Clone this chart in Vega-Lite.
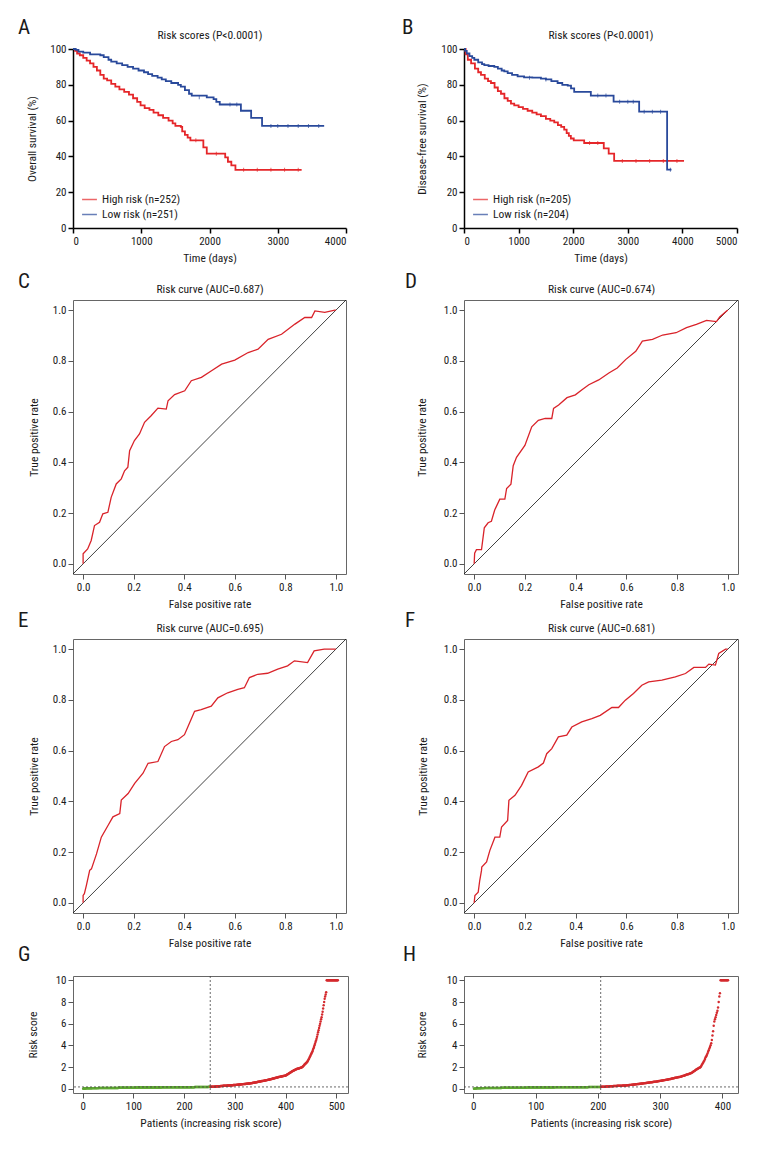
{
"$schema":"https://vega.github.io/schema/vega-lite/v6.json",
"background":"white",
"padding":{"left":17,"top":17,"right":5,"bottom":5},
"spacing":6,
"resolve":{"scale":{"color":"independent"},"legend":{"color":"independent"}},
"config":{
 "font":"'Roboto Condensed','DejaVu Sans Condensed','Liberation Sans Narrow',Roboto,sans-serif",
 "view":{"stroke":null},
 "axis":{"labelFont":"'Roboto Condensed','DejaVu Sans Condensed','Liberation Sans Narrow',Roboto,sans-serif","titleFont":"'Roboto Condensed','DejaVu Sans Condensed','Liberation Sans Narrow',Roboto,sans-serif","labelFontSize":11,"titleFontSize":11.5,"titleFontWeight":"normal","labelColor":"#1a1a1a","titleColor":"#1a1a1a","grid":false,"tickColor":"#555","domainColor":"#555","tickSize":5,"labelPadding":2,"titlePadding":6,"labelOverlap":false},
 "title":{"font":"'Roboto Condensed','DejaVu Sans Condensed','Liberation Sans Narrow',Roboto,sans-serif","fontSize":21,"fontWeight":"normal","color":"#1a1a1a","anchor":"start","frame":"group"},
 "legend":{"labelFont":"'Roboto Condensed','DejaVu Sans Condensed','Liberation Sans Narrow',Roboto,sans-serif"}
},
"vconcat":[
{"bounds":"flush","spacing":118,"resolve":{"scale":{"color":"independent"},"legend":{"color":"independent"}},"hconcat":[
 {"width":273,"height":179,
  "title":{"text":"A","dx":-55,"offset":-9},
  "resolve":{"axis":{"x":"independent"}},
  "layer":[
  {"data":{"values":[
   {"t":0,"s":100,"g":"High risk (n=252)"},{"t":30,"s":99,"g":"High risk (n=252)"},{"t":60,"s":97.5,"g":"High risk (n=252)"},{"t":100,"s":96.5,"g":"High risk (n=252)"},{"t":150,"s":95,"g":"High risk (n=252)"},{"t":200,"s":93.5,"g":"High risk (n=252)"},{"t":250,"s":92,"g":"High risk (n=252)"},{"t":300,"s":90,"g":"High risk (n=252)"},{"t":350,"s":88,"g":"High risk (n=252)"},{"t":400,"s":85.5,"g":"High risk (n=252)"},{"t":450,"s":83.5,"g":"High risk (n=252)"},{"t":500,"s":82.5,"g":"High risk (n=252)"},{"t":560,"s":80.5,"g":"High risk (n=252)"},{"t":620,"s":79,"g":"High risk (n=252)"},{"t":680,"s":77.5,"g":"High risk (n=252)"},{"t":750,"s":76,"g":"High risk (n=252)"},{"t":820,"s":74.5,"g":"High risk (n=252)"},{"t":880,"s":72.5,"g":"High risk (n=252)"},{"t":940,"s":70.5,"g":"High risk (n=252)"},{"t":990,"s":68.5,"g":"High risk (n=252)"},{"t":1050,"s":67,"g":"High risk (n=252)"},{"t":1120,"s":66,"g":"High risk (n=252)"},{"t":1180,"s":64.5,"g":"High risk (n=252)"},{"t":1250,"s":63,"g":"High risk (n=252)"},{"t":1320,"s":61.5,"g":"High risk (n=252)"},{"t":1400,"s":60,"g":"High risk (n=252)"},{"t":1460,"s":58.5,"g":"High risk (n=252)"},{"t":1500,"s":57,"g":"High risk (n=252)"},{"t":1580,"s":56.5,"g":"High risk (n=252)"},{"t":1600,"s":54,"g":"High risk (n=252)"},{"t":1640,"s":52,"g":"High risk (n=252)"},{"t":1680,"s":50.5,"g":"High risk (n=252)"},{"t":1720,"s":49,"g":"High risk (n=252)"},{"t":1910,"s":45,"g":"High risk (n=252)"},{"t":1960,"s":41.5,"g":"High risk (n=252)"},{"t":2230,"s":39.5,"g":"High risk (n=252)"},{"t":2270,"s":37,"g":"High risk (n=252)"},{"t":2320,"s":35,"g":"High risk (n=252)"},{"t":2380,"s":32.5,"g":"High risk (n=252)"},{"t":3350,"s":32.5,"g":"High risk (n=252)"},
   {"t":0,"s":100,"g":"Low risk (n=251)"},{"t":40,"s":99.5,"g":"Low risk (n=251)"},{"t":80,"s":98.5,"g":"Low risk (n=251)"},{"t":150,"s":98,"g":"Low risk (n=251)"},{"t":250,"s":97,"g":"Low risk (n=251)"},{"t":400,"s":96.5,"g":"Low risk (n=251)"},{"t":450,"s":95.5,"g":"Low risk (n=251)"},{"t":520,"s":94,"g":"Low risk (n=251)"},{"t":560,"s":93,"g":"Low risk (n=251)"},{"t":640,"s":92,"g":"Low risk (n=251)"},{"t":720,"s":91,"g":"Low risk (n=251)"},{"t":800,"s":90,"g":"Low risk (n=251)"},{"t":880,"s":89,"g":"Low risk (n=251)"},{"t":960,"s":88,"g":"Low risk (n=251)"},{"t":1040,"s":87,"g":"Low risk (n=251)"},{"t":1100,"s":86,"g":"Low risk (n=251)"},{"t":1160,"s":85,"g":"Low risk (n=251)"},{"t":1240,"s":84,"g":"Low risk (n=251)"},{"t":1300,"s":83,"g":"Low risk (n=251)"},{"t":1360,"s":82,"g":"Low risk (n=251)"},{"t":1440,"s":81,"g":"Low risk (n=251)"},{"t":1540,"s":80,"g":"Low risk (n=251)"},{"t":1580,"s":79,"g":"Low risk (n=251)"},{"t":1640,"s":77,"g":"Low risk (n=251)"},{"t":1700,"s":75,"g":"Low risk (n=251)"},{"t":1740,"s":74,"g":"Low risk (n=251)"},{"t":1960,"s":73,"g":"Low risk (n=251)"},{"t":2060,"s":72,"g":"Low risk (n=251)"},{"t":2100,"s":70.5,"g":"Low risk (n=251)"},{"t":2150,"s":69,"g":"Low risk (n=251)"},{"t":2460,"s":65.5,"g":"Low risk (n=251)"},{"t":2610,"s":61.5,"g":"Low risk (n=251)"},{"t":2770,"s":57,"g":"Low risk (n=251)"},{"t":3680,"s":57,"g":"Low risk (n=251)"}
  ]},
  "mark":{"type":"line","interpolate":"step-after","strokeWidth":1.8},
  "encoding":{
   "x":{"field":"t","type":"quantitative","scale":{"domain":[0,4000],"nice":false},"axis":{"values":[0,1000,2000,3000,4000],"format":"d","title":"Time (days)","domainColor":"#000","domainWidth":1.5,"tickColor":"#000","tickWidth":1.5}},
   "y":{"field":"s","type":"quantitative","scale":{"domain":[0,100],"nice":false},"axis":{"values":[0,20,40,60,80,100],"labelOverlap":false,"title":"Overall survival (%)","titlePadding":12,"domainColor":"#000","domainWidth":1.5,"tickColor":"#000","tickWidth":1.5}},
   "color":{"field":"g","type":"nominal","scale":{"domain":["High risk (n=252)","Low risk (n=251)"],"range":["#e52629","#29499b"]},"legend":{"title":null,"orient":"bottom-left","offset":8,"symbolType":"stroke","symbolStrokeWidth":1.5,"symbolSize":220,"labelFontSize":11.5,"labelColor":"#1a1a1a","rowPadding":1}}
  }},
  {"data":{"values":[{"t":1800,"s":49,"g":"High risk (n=252)"},{"t":2100,"s":41.5,"g":"High risk (n=252)"},{"t":2500,"s":32.5,"g":"High risk (n=252)"},{"t":2700,"s":32.5,"g":"High risk (n=252)"},{"t":2900,"s":32.5,"g":"High risk (n=252)"},{"t":3100,"s":32.5,"g":"High risk (n=252)"},{"t":3300,"s":32.5,"g":"High risk (n=252)"},
    {"t":1850,"s":73,"g":"Low risk (n=251)"},{"t":2300,"s":69,"g":"Low risk (n=251)"},{"t":2400,"s":69,"g":"Low risk (n=251)"},{"t":2900,"s":57,"g":"Low risk (n=251)"},{"t":3000,"s":57,"g":"Low risk (n=251)"},{"t":3150,"s":57,"g":"Low risk (n=251)"},{"t":3300,"s":57,"g":"Low risk (n=251)"},{"t":3450,"s":57,"g":"Low risk (n=251)"},{"t":3600,"s":57,"g":"Low risk (n=251)"}]},
   "mark":{"type":"tick","orient":"vertical","size":4,"thickness":1},
   "encoding":{
    "x":{"field":"t","type":"quantitative","axis":{"orient":"top","title":"Risk scores (P<0.0001)","labels":false,"ticks":false,"domain":false,"titlePadding":9}},
    "y":{"field":"s","type":"quantitative","axis":{"values":[0,20,40,60,80,100],"labelOverlap":false,"title":"Overall survival (%)","titlePadding":12,"domainColor":"#000","domainWidth":1.5,"tickColor":"#000","tickWidth":1.5}},
    "color":{"field":"g","type":"nominal"}
   }}
  ]
 },
 {"width":273,"height":179,
  "title":{"text":"B","dx":-62,"offset":-9},
  "resolve":{"axis":{"x":"independent"}},
  "layer":[
  {"data":{"values":[
   {"t":0,"s":100,"g":"High risk (n=205)"},{"t":30,"s":97,"g":"High risk (n=205)"},{"t":70,"s":94,"g":"High risk (n=205)"},{"t":130,"s":92,"g":"High risk (n=205)"},{"t":200,"s":89,"g":"High risk (n=205)"},{"t":260,"s":87,"g":"High risk (n=205)"},{"t":311,"s":85.5,"g":"High risk (n=205)"},{"t":380,"s":83.5,"g":"High risk (n=205)"},{"t":440,"s":82,"g":"High risk (n=205)"},{"t":494,"s":81,"g":"High risk (n=205)"},{"t":560,"s":78.5,"g":"High risk (n=205)"},{"t":620,"s":76.5,"g":"High risk (n=205)"},{"t":677,"s":75,"g":"High risk (n=205)"},{"t":740,"s":72.5,"g":"High risk (n=205)"},{"t":800,"s":71,"g":"High risk (n=205)"},{"t":860,"s":69.5,"g":"High risk (n=205)"},{"t":920,"s":68.5,"g":"High risk (n=205)"},{"t":1000,"s":67.5,"g":"High risk (n=205)"},{"t":1080,"s":66.5,"g":"High risk (n=205)"},{"t":1165,"s":65.5,"g":"High risk (n=205)"},{"t":1250,"s":64.5,"g":"High risk (n=205)"},{"t":1330,"s":63.5,"g":"High risk (n=205)"},{"t":1409,"s":62.5,"g":"High risk (n=205)"},{"t":1500,"s":61,"g":"High risk (n=205)"},{"t":1580,"s":60,"g":"High risk (n=205)"},{"t":1653,"s":59,"g":"High risk (n=205)"},{"t":1720,"s":57.5,"g":"High risk (n=205)"},{"t":1780,"s":56.5,"g":"High risk (n=205)"},{"t":1835,"s":55,"g":"High risk (n=205)"},{"t":1880,"s":53,"g":"High risk (n=205)"},{"t":1920,"s":51.5,"g":"High risk (n=205)"},{"t":1957,"s":50,"g":"High risk (n=205)"},{"t":2010,"s":49,"g":"High risk (n=205)"},{"t":2201,"s":47.5,"g":"High risk (n=205)"},{"t":2560,"s":44.5,"g":"High risk (n=205)"},{"t":2650,"s":41.5,"g":"High risk (n=205)"},{"t":2750,"s":37.5,"g":"High risk (n=205)"},{"t":4030,"s":37.5,"g":"High risk (n=205)"},
   {"t":0,"s":100,"g":"Low risk (n=204)"},{"t":20,"s":99,"g":"Low risk (n=204)"},{"t":50,"s":97.5,"g":"Low risk (n=204)"},{"t":100,"s":96,"g":"Low risk (n=204)"},{"t":150,"s":95,"g":"Low risk (n=204)"},{"t":189,"s":94,"g":"Low risk (n=204)"},{"t":260,"s":92.5,"g":"Low risk (n=204)"},{"t":330,"s":91.5,"g":"Low risk (n=204)"},{"t":372,"s":91,"g":"Low risk (n=204)"},{"t":450,"s":90.5,"g":"Low risk (n=204)"},{"t":555,"s":90,"g":"Low risk (n=204)"},{"t":620,"s":89,"g":"Low risk (n=204)"},{"t":690,"s":88,"g":"Low risk (n=204)"},{"t":738,"s":87.5,"g":"Low risk (n=204)"},{"t":800,"s":86.5,"g":"Low risk (n=204)"},{"t":880,"s":85.5,"g":"Low risk (n=204)"},{"t":982,"s":84.7,"g":"Low risk (n=204)"},{"t":1100,"s":84.2,"g":"Low risk (n=204)"},{"t":1250,"s":84,"g":"Low risk (n=204)"},{"t":1409,"s":83.5,"g":"Low risk (n=204)"},{"t":1500,"s":83,"g":"Low risk (n=204)"},{"t":1600,"s":82,"g":"Low risk (n=204)"},{"t":1714,"s":81,"g":"Low risk (n=204)"},{"t":1800,"s":80,"g":"Low risk (n=204)"},{"t":1900,"s":79.5,"g":"Low risk (n=204)"},{"t":1960,"s":78,"g":"Low risk (n=204)"},{"t":2018,"s":76,"g":"Low risk (n=204)"},{"t":2323,"s":74,"g":"Low risk (n=204)"},{"t":2740,"s":70.6,"g":"Low risk (n=204)"},{"t":3208,"s":65,"g":"Low risk (n=204)"},{"t":3720,"s":32.6,"g":"Low risk (n=204)"},{"t":3800,"s":32.6,"g":"Low risk (n=204)"}
  ]},
  "mark":{"type":"line","interpolate":"step-after","strokeWidth":1.8},
  "encoding":{
   "x":{"field":"t","type":"quantitative","scale":{"domain":[0,5000],"nice":false},"axis":{"values":[0,1000,2000,3000,4000,5000],"format":"d","title":"Time (days)","domainColor":"#000","domainWidth":1.5,"tickColor":"#000","tickWidth":1.5}},
   "y":{"field":"s","type":"quantitative","scale":{"domain":[0,100],"nice":false},"axis":{"values":[0,20,40,60,80,100],"labelOverlap":false,"title":"Disease-free survival (%)","titlePadding":13,"domainColor":"#000","domainWidth":1.5,"tickColor":"#000","tickWidth":1.5}},
   "color":{"field":"g","type":"nominal","scale":{"domain":["High risk (n=205)","Low risk (n=204)"],"range":["#e52629","#29499b"]},"legend":{"title":null,"orient":"bottom-left","offset":8,"symbolType":"stroke","symbolStrokeWidth":1.5,"symbolSize":220,"labelFontSize":11.5,"labelColor":"#1a1a1a","rowPadding":1}}
  }},
  {"data":{"values":[{"t":2300,"s":47.5,"g":"High risk (n=205)"},{"t":2450,"s":47.5,"g":"High risk (n=205)"},{"t":2900,"s":37.5,"g":"High risk (n=205)"},{"t":3150,"s":37.5,"g":"High risk (n=205)"},{"t":3400,"s":37.5,"g":"High risk (n=205)"},{"t":3650,"s":37.5,"g":"High risk (n=205)"},{"t":3900,"s":37.5,"g":"High risk (n=205)"},
    {"t":1200,"s":84,"g":"Low risk (n=204)"},{"t":1500,"s":83,"g":"Low risk (n=204)"},{"t":2450,"s":74,"g":"Low risk (n=204)"},{"t":2600,"s":74,"g":"Low risk (n=204)"},{"t":2850,"s":70.6,"g":"Low risk (n=204)"},{"t":3000,"s":70.6,"g":"Low risk (n=204)"},{"t":3100,"s":70.6,"g":"Low risk (n=204)"},{"t":3300,"s":65,"g":"Low risk (n=204)"},{"t":3450,"s":65,"g":"Low risk (n=204)"},{"t":3600,"s":65,"g":"Low risk (n=204)"},{"t":3780,"s":32.6,"g":"Low risk (n=204)"}]},
   "mark":{"type":"tick","orient":"vertical","size":4,"thickness":1},
   "encoding":{
    "x":{"field":"t","type":"quantitative","axis":{"orient":"top","title":"Risk scores (P<0.0001)","labels":false,"ticks":false,"domain":false,"titlePadding":9}},
    "y":{"field":"s","type":"quantitative","axis":{"values":[0,20,40,60,80,100],"labelOverlap":false,"title":"Disease-free survival (%)","titlePadding":13,"domainColor":"#000","domainWidth":1.5,"tickColor":"#000","tickWidth":1.5}},
    "color":{"field":"g","type":"nominal"}
   }}
  ]
 }
]},
{"spacing":-1,"resolve":{"scale":{"color":"independent"},"legend":{"color":"independent"}},"vconcat":[
{"bounds":"flush","spacing":118,"hconcat":[
 {"width":273,"height":274,
  "view":{"stroke":"#666"},
  "title":{"text":"C","dx":-55,"offset":-9},
  "resolve":{"axis":{"x":"independent"}},
  "layer":[
   {"data":{"values":[{"fpr":-0.04,"tpr":-0.04},{"fpr":1.04,"tpr":1.04}]},"mark":{"type":"line","color":"#111","strokeWidth":0.8},
    "encoding":{"x":{"field":"fpr","type":"quantitative","scale":{"domain":[-0.04,1.04],"nice":false,"zero":false},"axis":{"orient":"top","title":"Risk curve (AUC=0.687)","labels":false,"ticks":false,"domain":false,"titlePadding":6}},
     "y":{"field":"tpr","type":"quantitative","scale":{"domain":[-0.04,1.04],"nice":false,"zero":false},"axis":{"values":[0,0.2,0.4,0.6,0.8,1],"format":".1f","domain":false,"labelOverlap":false,"title":"True positive rate","titlePadding":13}}}},
   {"data":{"values":[{"fpr":0,"tpr":0},{"fpr":0,"tpr":0.04},{"fpr":0.018,"tpr":0.059},{"fpr":0.032,"tpr":0.092},{"fpr":0.045,"tpr":0.151},{"fpr":0.065,"tpr":0.164},{"fpr":0.078,"tpr":0.197},{"fpr":0.098,"tpr":0.203},{"fpr":0.111,"tpr":0.262},{"fpr":0.131,"tpr":0.315},{"fpr":0.151,"tpr":0.335},{"fpr":0.164,"tpr":0.367},{"fpr":0.177,"tpr":0.381},{"fpr":0.184,"tpr":0.446},{"fpr":0.203,"tpr":0.486},{"fpr":0.223,"tpr":0.512},{"fpr":0.243,"tpr":0.558},{"fpr":0.269,"tpr":0.584},{"fpr":0.296,"tpr":0.614},{"fpr":0.329,"tpr":0.61},{"fpr":0.336,"tpr":0.643},{"fpr":0.362,"tpr":0.667},{"fpr":0.402,"tpr":0.682},{"fpr":0.428,"tpr":0.722},{"fpr":0.468,"tpr":0.735},{"fpr":0.508,"tpr":0.761},{"fpr":0.548,"tpr":0.787},{"fpr":0.6,"tpr":0.803},{"fpr":0.653,"tpr":0.833},{"fpr":0.692,"tpr":0.846},{"fpr":0.732,"tpr":0.885},{"fpr":0.785,"tpr":0.905},{"fpr":0.838,"tpr":0.945},{"fpr":0.877,"tpr":0.971},{"fpr":0.904,"tpr":0.971},{"fpr":0.917,"tpr":0.997},{"fpr":0.956,"tpr":0.991},{"fpr":0.996,"tpr":1},{"fpr":1,"tpr":1}]},
    "mark":{"type":"line","color":"#d9232a","strokeWidth":1.3},
    "encoding":{"x":{"field":"fpr","type":"quantitative","axis":{"values":[0,0.2,0.4,0.6,0.8,1],"format":".1f","domain":false,"title":"False positive rate"}},"y":{"field":"tpr","type":"quantitative","axis":{"values":[0,0.2,0.4,0.6,0.8,1],"format":".1f","domain":false,"labelOverlap":false,"title":"True positive rate","titlePadding":13}}}}
  ]
 },
 {"width":274,"height":274,
  "view":{"stroke":"#666"},
  "title":{"text":"D","dx":-59,"offset":-9},
  "resolve":{"axis":{"x":"independent"}},
  "layer":[
   {"data":{"values":[{"fpr":-0.04,"tpr":-0.04},{"fpr":1.04,"tpr":1.04}]},"mark":{"type":"line","color":"#111","strokeWidth":0.8},
    "encoding":{"x":{"field":"fpr","type":"quantitative","scale":{"domain":[-0.04,1.04],"nice":false,"zero":false},"axis":{"orient":"top","title":"Risk curve (AUC=0.674)","labels":false,"ticks":false,"domain":false,"titlePadding":6}},
     "y":{"field":"tpr","type":"quantitative","scale":{"domain":[-0.04,1.04],"nice":false,"zero":false},"axis":{"values":[0,0.2,0.4,0.6,0.8,1],"format":".1f","domain":false,"labelOverlap":false,"title":"True positive rate","titlePadding":16}}}},
   {"data":{"values":[{"fpr":0,"tpr":0},{"fpr":0.002,"tpr":0.042},{"fpr":0.009,"tpr":0.056},{"fpr":0.029,"tpr":0.056},{"fpr":0.04,"tpr":0.142},{"fpr":0.055,"tpr":0.162},{"fpr":0.068,"tpr":0.168},{"fpr":0.081,"tpr":0.212},{"fpr":0.101,"tpr":0.255},{"fpr":0.121,"tpr":0.255},{"fpr":0.128,"tpr":0.297},{"fpr":0.145,"tpr":0.314},{"fpr":0.154,"tpr":0.387},{"fpr":0.167,"tpr":0.42},{"fpr":0.2,"tpr":0.467},{"fpr":0.227,"tpr":0.54},{"fpr":0.253,"tpr":0.566},{"fpr":0.28,"tpr":0.573},{"fpr":0.306,"tpr":0.573},{"fpr":0.313,"tpr":0.613},{"fpr":0.333,"tpr":0.626},{"fpr":0.366,"tpr":0.655},{"fpr":0.399,"tpr":0.666},{"fpr":0.425,"tpr":0.686},{"fpr":0.452,"tpr":0.706},{"fpr":0.491,"tpr":0.725},{"fpr":0.531,"tpr":0.752},{"fpr":0.564,"tpr":0.772},{"fpr":0.597,"tpr":0.805},{"fpr":0.637,"tpr":0.838},{"fpr":0.663,"tpr":0.878},{"fpr":0.703,"tpr":0.885},{"fpr":0.743,"tpr":0.902},{"fpr":0.796,"tpr":0.911},{"fpr":0.837,"tpr":0.931},{"fpr":0.876,"tpr":0.944},{"fpr":0.916,"tpr":0.96},{"fpr":0.955,"tpr":0.955},{"fpr":0.968,"tpr":0.973},{"fpr":0.995,"tpr":0.997},{"fpr":1,"tpr":1}]},
    "mark":{"type":"line","color":"#d9232a","strokeWidth":1.3},
    "encoding":{"x":{"field":"fpr","type":"quantitative","axis":{"values":[0,0.2,0.4,0.6,0.8,1],"format":".1f","domain":false,"title":"False positive rate"}},"y":{"field":"tpr","type":"quantitative","axis":{"values":[0,0.2,0.4,0.6,0.8,1],"format":".1f","domain":false,"labelOverlap":false,"title":"True positive rate","titlePadding":16}}}}
  ]
 }
]},
{"spacing":-6,"resolve":{"scale":{"color":"independent"},"legend":{"color":"independent"}},"vconcat":[
{"bounds":"flush","spacing":118,"hconcat":[
 {"width":273,"height":274,
  "view":{"stroke":"#666"},
  "title":{"text":"E","dx":-55,"offset":-9},
  "resolve":{"axis":{"x":"independent"}},
  "layer":[
   {"data":{"values":[{"fpr":-0.04,"tpr":-0.04},{"fpr":1.04,"tpr":1.04}]},"mark":{"type":"line","color":"#111","strokeWidth":0.8},
    "encoding":{"x":{"field":"fpr","type":"quantitative","scale":{"domain":[-0.04,1.04],"nice":false,"zero":false},"axis":{"orient":"top","title":"Risk curve (AUC=0.695)","labels":false,"ticks":false,"domain":false,"titlePadding":6}},
     "y":{"field":"tpr","type":"quantitative","scale":{"domain":[-0.04,1.04],"nice":false,"zero":false},"axis":{"values":[0,0.2,0.4,0.6,0.8,1],"format":".1f","domain":false,"labelOverlap":false,"title":"True positive rate","titlePadding":13}}}},
   {"data":{"values":[{"fpr":0,"tpr":0},{"fpr":0,"tpr":0.029},{"fpr":0.005,"tpr":0.036},{"fpr":0.013,"tpr":0.069},{"fpr":0.026,"tpr":0.128},{"fpr":0.033,"tpr":0.134},{"fpr":0.053,"tpr":0.193},{"fpr":0.072,"tpr":0.259},{"fpr":0.099,"tpr":0.306},{"fpr":0.118,"tpr":0.339},{"fpr":0.145,"tpr":0.352},{"fpr":0.151,"tpr":0.405},{"fpr":0.178,"tpr":0.431},{"fpr":0.204,"tpr":0.471},{"fpr":0.237,"tpr":0.511},{"fpr":0.257,"tpr":0.55},{"fpr":0.296,"tpr":0.557},{"fpr":0.322,"tpr":0.616},{"fpr":0.349,"tpr":0.636},{"fpr":0.375,"tpr":0.643},{"fpr":0.401,"tpr":0.663},{"fpr":0.421,"tpr":0.709},{"fpr":0.441,"tpr":0.755},{"fpr":0.467,"tpr":0.762},{"fpr":0.507,"tpr":0.775},{"fpr":0.533,"tpr":0.808},{"fpr":0.572,"tpr":0.828},{"fpr":0.612,"tpr":0.841},{"fpr":0.638,"tpr":0.848},{"fpr":0.658,"tpr":0.888},{"fpr":0.691,"tpr":0.901},{"fpr":0.73,"tpr":0.905},{"fpr":0.77,"tpr":0.921},{"fpr":0.809,"tpr":0.934},{"fpr":0.836,"tpr":0.954},{"fpr":0.888,"tpr":0.947},{"fpr":0.914,"tpr":0.993},{"fpr":0.954,"tpr":1},{"fpr":1,"tpr":1}]},
    "mark":{"type":"line","color":"#d9232a","strokeWidth":1.3},
    "encoding":{"x":{"field":"fpr","type":"quantitative","axis":{"values":[0,0.2,0.4,0.6,0.8,1],"format":".1f","domain":false,"title":"False positive rate"}},"y":{"field":"tpr","type":"quantitative","axis":{"values":[0,0.2,0.4,0.6,0.8,1],"format":".1f","domain":false,"labelOverlap":false,"title":"True positive rate","titlePadding":13}}}}
  ]
 },
 {"width":274,"height":274,
  "view":{"stroke":"#666"},
  "title":{"text":"F","dx":-59,"offset":-9},
  "resolve":{"axis":{"x":"independent"}},
  "layer":[
   {"data":{"values":[{"fpr":-0.04,"tpr":-0.04},{"fpr":1.04,"tpr":1.04}]},"mark":{"type":"line","color":"#111","strokeWidth":0.8},
    "encoding":{"x":{"field":"fpr","type":"quantitative","scale":{"domain":[-0.04,1.04],"nice":false,"zero":false},"axis":{"orient":"top","title":"Risk curve (AUC=0.681)","labels":false,"ticks":false,"domain":false,"titlePadding":6}},
     "y":{"field":"tpr","type":"quantitative","scale":{"domain":[-0.04,1.04],"nice":false,"zero":false},"axis":{"values":[0,0.2,0.4,0.6,0.8,1],"format":".1f","domain":false,"labelOverlap":false,"title":"True positive rate","titlePadding":15}}}},
   {"data":{"values":[{"fpr":0,"tpr":0},{"fpr":0.003,"tpr":0.029},{"fpr":0.016,"tpr":0.042},{"fpr":0.022,"tpr":0.088},{"fpr":0.029,"tpr":0.128},{"fpr":0.03,"tpr":0.141},{"fpr":0.049,"tpr":0.161},{"fpr":0.062,"tpr":0.207},{"fpr":0.082,"tpr":0.259},{"fpr":0.101,"tpr":0.259},{"fpr":0.108,"tpr":0.299},{"fpr":0.132,"tpr":0.325},{"fpr":0.137,"tpr":0.404},{"fpr":0.161,"tpr":0.424},{"fpr":0.187,"tpr":0.463},{"fpr":0.213,"tpr":0.516},{"fpr":0.253,"tpr":0.536},{"fpr":0.273,"tpr":0.551},{"fpr":0.286,"tpr":0.588},{"fpr":0.306,"tpr":0.608},{"fpr":0.332,"tpr":0.654},{"fpr":0.365,"tpr":0.661},{"fpr":0.385,"tpr":0.693},{"fpr":0.424,"tpr":0.713},{"fpr":0.464,"tpr":0.726},{"fpr":0.497,"tpr":0.739},{"fpr":0.543,"tpr":0.77},{"fpr":0.569,"tpr":0.77},{"fpr":0.596,"tpr":0.799},{"fpr":0.628,"tpr":0.825},{"fpr":0.661,"tpr":0.858},{"fpr":0.688,"tpr":0.871},{"fpr":0.74,"tpr":0.878},{"fpr":0.793,"tpr":0.891},{"fpr":0.833,"tpr":0.904},{"fpr":0.866,"tpr":0.928},{"fpr":0.912,"tpr":0.928},{"fpr":0.925,"tpr":0.941},{"fpr":0.951,"tpr":0.937},{"fpr":0.964,"tpr":0.983},{"fpr":0.991,"tpr":1},{"fpr":1,"tpr":1}]},
    "mark":{"type":"line","color":"#d9232a","strokeWidth":1.3},
    "encoding":{"x":{"field":"fpr","type":"quantitative","axis":{"values":[0,0.2,0.4,0.6,0.8,1],"format":".1f","domain":false,"title":"False positive rate"}},"y":{"field":"tpr","type":"quantitative","axis":{"values":[0,0.2,0.4,0.6,0.8,1],"format":".1f","domain":false,"labelOverlap":false,"title":"True positive rate","titlePadding":15}}}}
  ]
 }
]},
{"bounds":"flush","spacing":116,"resolve":{"scale":{"color":"independent"},"legend":{"color":"independent"}},"hconcat":[
 {"width":275,"height":117,
  "view":{"stroke":"#666"},
  "title":{"text":"G","dx":-55,"offset":9},
  "layer":[
   {"data":{"values":[
{"r":0},{"r":0.01},{"r":0.01},{"r":0.02},{"r":0.02},{"r":0.02},{"r":0.03},{"r":0.03},{"r":0.03},{"r":0.03},
{"r":0.03},{"r":0.04},{"r":0.04},{"r":0.04},{"r":0.04},{"r":0.04},{"r":0.04},{"r":0.04},{"r":0.05},{"r":0.05},
{"r":0.05},{"r":0.05},{"r":0.05},{"r":0.05},{"r":0.05},{"r":0.05},{"r":0.05},{"r":0.05},{"r":0.05},{"r":0.05},
{"r":0.06},{"r":0.06},{"r":0.06},{"r":0.06},{"r":0.06},{"r":0.06},{"r":0.06},{"r":0.06},{"r":0.06},{"r":0.06},
{"r":0.06},{"r":0.06},{"r":0.06},{"r":0.06},{"r":0.06},{"r":0.06},{"r":0.06},{"r":0.06},{"r":0.06},{"r":0.06},
{"r":0.07},{"r":0.07},{"r":0.07},{"r":0.07},{"r":0.07},{"r":0.07},{"r":0.07},{"r":0.07},{"r":0.07},{"r":0.07},
{"r":0.07},{"r":0.07},{"r":0.07},{"r":0.07},{"r":0.07},{"r":0.07},{"r":0.07},{"r":0.07},{"r":0.07},{"r":0.07},
{"r":0.08},{"r":0.08},{"r":0.08},{"r":0.08},{"r":0.08},{"r":0.08},{"r":0.08},{"r":0.08},{"r":0.08},{"r":0.08},
{"r":0.08},{"r":0.08},{"r":0.08},{"r":0.08},{"r":0.08},{"r":0.08},{"r":0.08},{"r":0.08},{"r":0.08},{"r":0.08},
{"r":0.09},{"r":0.09},{"r":0.09},{"r":0.09},{"r":0.09},{"r":0.09},{"r":0.09},{"r":0.09},{"r":0.09},{"r":0.09},
{"r":0.09},{"r":0.09},{"r":0.09},{"r":0.09},{"r":0.09},{"r":0.1},{"r":0.1},{"r":0.1},{"r":0.1},{"r":0.1},
{"r":0.1},{"r":0.1},{"r":0.1},{"r":0.1},{"r":0.1},{"r":0.1},{"r":0.1},{"r":0.1},{"r":0.1},{"r":0.1},
{"r":0.1},{"r":0.1},{"r":0.1},{"r":0.1},{"r":0.1},{"r":0.1},{"r":0.1},{"r":0.1},{"r":0.1},{"r":0.1},
{"r":0.11},{"r":0.11},{"r":0.11},{"r":0.11},{"r":0.11},{"r":0.11},{"r":0.11},{"r":0.11},{"r":0.11},{"r":0.11},
{"r":0.11},{"r":0.11},{"r":0.11},{"r":0.11},{"r":0.11},{"r":0.11},{"r":0.11},{"r":0.11},{"r":0.11},{"r":0.11},
{"r":0.11},{"r":0.11},{"r":0.11},{"r":0.11},{"r":0.11},{"r":0.12},{"r":0.12},{"r":0.12},{"r":0.12},{"r":0.12},
{"r":0.12},{"r":0.12},{"r":0.12},{"r":0.12},{"r":0.12},{"r":0.12},{"r":0.12},{"r":0.12},{"r":0.12},{"r":0.12},
{"r":0.12},{"r":0.12},{"r":0.12},{"r":0.12},{"r":0.12},{"r":0.12},{"r":0.12},{"r":0.12},{"r":0.12},{"r":0.12},
{"r":0.12},{"r":0.12},{"r":0.12},{"r":0.12},{"r":0.12},{"r":0.13},{"r":0.13},{"r":0.13},{"r":0.13},{"r":0.13},
{"r":0.13},{"r":0.13},{"r":0.13},{"r":0.13},{"r":0.13},{"r":0.13},{"r":0.13},{"r":0.13},{"r":0.13},{"r":0.13},
{"r":0.13},{"r":0.13},{"r":0.13},{"r":0.13},{"r":0.13},{"r":0.14},{"r":0.14},{"r":0.14},{"r":0.14},{"r":0.14},
{"r":0.14},{"r":0.14},{"r":0.14},{"r":0.14},{"r":0.14},{"r":0.14},{"r":0.14},{"r":0.14},{"r":0.14},{"r":0.14},
{"r":0.15},{"r":0.15},{"r":0.15},{"r":0.15},{"r":0.15},{"r":0.15},{"r":0.15},{"r":0.15},{"r":0.15},{"r":0.15},
{"r":0.15},{"r":0.15},{"r":0.15},{"r":0.15},{"r":0.15},{"r":0.16},{"r":0.16},{"r":0.16},{"r":0.16},{"r":0.16},
{"r":0.16},{"r":0.16},{"r":0.16},{"r":0.16},{"r":0.16},{"r":0.16},{"r":0.16},{"r":0.16},{"r":0.17},{"r":0.17},
{"r":0.17},{"r":0.17},
{"r":0.17},{"r":0.17},{"r":0.18},{"r":0.18},{"r":0.18},{"r":0.19},{"r":0.19},{"r":0.19},{"r":0.2},{"r":0.2},
{"r":0.2},{"r":0.21},{"r":0.21},{"r":0.21},{"r":0.22},{"r":0.22},{"r":0.23},{"r":0.23},{"r":0.23},{"r":0.24},
{"r":0.24},{"r":0.24},{"r":0.25},{"r":0.25},{"r":0.26},{"r":0.26},{"r":0.26},{"r":0.27},{"r":0.27},{"r":0.28},
{"r":0.28},{"r":0.28},{"r":0.29},{"r":0.29},{"r":0.29},{"r":0.3},{"r":0.3},{"r":0.3},{"r":0.31},{"r":0.31},
{"r":0.31},{"r":0.32},{"r":0.32},{"r":0.32},{"r":0.33},{"r":0.33},{"r":0.33},{"r":0.34},
{"r":0.34},{"r":0.35},{"r":0.35},{"r":0.36},{"r":0.36},{"r":0.37},{"r":0.37},{"r":0.38},{"r":0.38},{"r":0.39},
{"r":0.39},{"r":0.4},{"r":0.4},{"r":0.41},{"r":0.41},{"r":0.42},{"r":0.42},{"r":0.43},{"r":0.43},{"r":0.44},
{"r":0.44},{"r":0.45},{"r":0.45},{"r":0.46},{"r":0.46},{"r":0.47},{"r":0.47},{"r":0.48},{"r":0.48},{"r":0.49},{"r":0.5},{"r":0.5},{"r":0.51},
{"r":0.52},{"r":0.53},{"r":0.54},{"r":0.55},{"r":0.55},{"r":0.56},{"r":0.57},{"r":0.58},{"r":0.59},{"r":0.6},
{"r":0.61},{"r":0.62},{"r":0.63},{"r":0.64},{"r":0.65},{"r":0.66},{"r":0.67},{"r":0.68},{"r":0.69},{"r":0.7},
{"r":0.7},{"r":0.71},{"r":0.72},{"r":0.73},{"r":0.74},{"r":0.75},{"r":0.76},{"r":0.77},{"r":0.78},{"r":0.79},{"r":0.8},{"r":0.81},{"r":0.82},
{"r":0.83},{"r":0.84},{"r":0.85},{"r":0.87},{"r":0.88},{"r":0.89},{"r":0.9},{"r":0.92},{"r":0.93},{"r":0.94},
{"r":0.95},{"r":0.97},{"r":0.98},{"r":0.99},{"r":1.0},{"r":1.02},{"r":1.03},{"r":1.04},{"r":1.06},{"r":1.07},
{"r":1.08},{"r":1.09},{"r":1.1},{"r":1.11},{"r":1.12},{"r":1.13},{"r":1.14},{"r":1.15},{"r":1.16},{"r":1.17},{"r":1.18},{"r":1.19},{"r":1.2},{"r":1.21},
{"r":1.24},{"r":1.27},{"r":1.3},{"r":1.33},{"r":1.36},{"r":1.39},{"r":1.42},{"r":1.45},{"r":1.48},{"r":1.51},
{"r":1.54},{"r":1.57},{"r":1.6},{"r":1.62},{"r":1.65},{"r":1.68},{"r":1.7},{"r":1.72},{"r":1.75},{"r":1.78},
{"r":1.8},{"r":1.82},{"r":1.84},{"r":1.85},{"r":1.86},{"r":1.87},{"r":1.88},{"r":1.9},{"r":1.92},{"r":1.94},{"r":1.96},{"r":1.98},{"r":2.0},
{"r":2.05},{"r":2.1},{"r":2.15},{"r":2.2},{"r":2.25},{"r":2.3},{"r":2.35},{"r":2.4},{"r":2.45},{"r":2.5},{"r":2.58},{"r":2.66},{"r":2.75},
{"r":2.85},{"r":2.95},{"r":3.05},{"r":3.15},{"r":3.25},{"r":3.35},{"r":3.45},{"r":3.6},{"r":3.72},{"r":3.85},
{"r":4.0},{"r":4.15},{"r":4.3},{"r":4.45},{"r":4.6},{"r":4.8},{"r":5.0},
{"r":5.2},{"r":5.4},{"r":5.6},{"r":5.8},{"r":6.0},
{"r":6.2},{"r":6.4},{"r":6.6},{"r":6.85},{"r":7.1},{"r":7.4},{"r":7.7},{"r":8.0},{"r":8.3},{"r":8.5},{"r":8.7},{"r":8.9},
{"r":10},{"r":10},{"r":10},{"r":10},{"r":10},{"r":10},{"r":10},{"r":10},{"r":10},{"r":10},
{"r":10},{"r":10},{"r":10},{"r":10},{"r":10},{"r":10},{"r":10},{"r":10},{"r":10},{"r":10},
{"r":10},{"r":10},{"r":10}
   ]},
   "transform":[{"window":[{"op":"row_number","as":"p"}]}],
   "mark":{"type":"circle","size":6,"opacity":1},
   "encoding":{
    "x":{"field":"p","type":"quantitative","scale":{"domain":[-19,523],"nice":false,"zero":false},"axis":{"values":[0,100,200,300,400,500],"format":"d","domain":false,"title":"Patients (increasing risk score)"}},
    "y":{"field":"r","type":"quantitative","scale":{"domain":[-0.4,10.4],"nice":false,"zero":false},"axis":{"values":[0,2,4,6,8,10],"format":"d","domain":false,"labelOverlap":false,"title":"Risk score","titlePadding":17}},
    "color":{"field":"p","type":"quantitative","scale":{"type":"threshold","domain":[251.5],"range":["#5fa832","#d42a2e"]},"legend":null}
   }},
   {"data":{"values":[{"cut":251.5}]},"mark":{"type":"rule","color":"#444","strokeDash":[2,2],"strokeWidth":0.8},"encoding":{"x":{"field":"cut","type":"quantitative","axis":{"values":[0,100,200,300,400,500],"format":"d","domain":false,"title":"Patients (increasing risk score)"}}}},
   {"data":{"values":[{"med":0.16}]},"mark":{"type":"rule","color":"#444","strokeDash":[2,2],"strokeWidth":0.8},"encoding":{"y":{"field":"med","type":"quantitative","axis":{"values":[0,2,4,6,8,10],"format":"d","domain":false,"labelOverlap":false,"title":"Risk score","titlePadding":17}}}}
  ]
 },
 {"width":274,"height":117,
  "view":{"stroke":"#666"},
  "title":{"text":"H","dx":-61,"offset":9},
  "layer":[
   {"data":{"values":[
{"r":0},{"r":0.01},{"r":0.01},{"r":0.02},{"r":0.02},{"r":0.03},{"r":0.03},{"r":0.03},{"r":0.04},{"r":0.04},
{"r":0.04},{"r":0.04},{"r":0.05},{"r":0.05},{"r":0.05},{"r":0.05},{"r":0.05},{"r":0.06},{"r":0.06},{"r":0.06},
{"r":0.06},{"r":0.06},{"r":0.06},{"r":0.06},{"r":0.06},{"r":0.06},{"r":0.06},{"r":0.06},{"r":0.06},{"r":0.06},
{"r":0.07},{"r":0.07},{"r":0.07},{"r":0.07},{"r":0.07},{"r":0.07},{"r":0.07},{"r":0.07},{"r":0.07},{"r":0.07},
{"r":0.07},{"r":0.07},{"r":0.07},{"r":0.07},{"r":0.07},{"r":0.08},{"r":0.08},{"r":0.08},{"r":0.08},{"r":0.08},
{"r":0.08},{"r":0.08},{"r":0.08},{"r":0.08},{"r":0.08},{"r":0.08},{"r":0.08},{"r":0.08},{"r":0.08},{"r":0.08},
{"r":0.08},{"r":0.08},{"r":0.08},{"r":0.08},{"r":0.08},{"r":0.09},{"r":0.09},{"r":0.09},{"r":0.09},{"r":0.09},
{"r":0.09},{"r":0.09},{"r":0.09},{"r":0.09},{"r":0.09},{"r":0.09},{"r":0.09},{"r":0.09},{"r":0.09},{"r":0.09},
{"r":0.09},{"r":0.09},{"r":0.09},{"r":0.09},{"r":0.09},{"r":0.1},{"r":0.1},{"r":0.1},{"r":0.1},{"r":0.1},
{"r":0.1},{"r":0.1},{"r":0.1},{"r":0.1},{"r":0.1},{"r":0.1},{"r":0.1},{"r":0.1},{"r":0.1},{"r":0.1},
{"r":0.1},{"r":0.1},{"r":0.1},{"r":0.1},{"r":0.1},{"r":0.1},{"r":0.1},{"r":0.1},{"r":0.1},{"r":0.1},
{"r":0.11},{"r":0.11},{"r":0.11},{"r":0.11},{"r":0.11},{"r":0.11},{"r":0.11},{"r":0.11},{"r":0.11},{"r":0.11},
{"r":0.11},{"r":0.11},{"r":0.11},{"r":0.11},{"r":0.11},{"r":0.11},{"r":0.11},{"r":0.11},{"r":0.11},{"r":0.11},
{"r":0.12},{"r":0.12},{"r":0.12},{"r":0.12},{"r":0.12},{"r":0.12},{"r":0.12},{"r":0.12},{"r":0.12},{"r":0.12},
{"r":0.12},{"r":0.12},{"r":0.12},{"r":0.12},{"r":0.12},{"r":0.12},{"r":0.12},{"r":0.12},{"r":0.12},{"r":0.12},
{"r":0.12},{"r":0.12},{"r":0.12},{"r":0.12},{"r":0.13},{"r":0.13},{"r":0.13},{"r":0.13},{"r":0.13},{"r":0.13},
{"r":0.13},{"r":0.13},{"r":0.13},{"r":0.13},{"r":0.13},{"r":0.13},{"r":0.13},{"r":0.13},{"r":0.13},{"r":0.14},
{"r":0.14},{"r":0.14},{"r":0.14},{"r":0.14},{"r":0.14},{"r":0.14},{"r":0.14},{"r":0.14},{"r":0.14},{"r":0.14},
{"r":0.14},{"r":0.14},{"r":0.14},{"r":0.14},{"r":0.15},{"r":0.15},{"r":0.15},{"r":0.15},{"r":0.15},{"r":0.15},
{"r":0.15},{"r":0.15},{"r":0.15},{"r":0.15},{"r":0.16},{"r":0.16},{"r":0.16},{"r":0.16},{"r":0.16},{"r":0.16},
{"r":0.16},{"r":0.16},{"r":0.16},{"r":0.16},
{"r":0.17},{"r":0.17},{"r":0.18},{"r":0.18},{"r":0.18},{"r":0.19},{"r":0.19},{"r":0.19},{"r":0.2},{"r":0.2},
{"r":0.2},{"r":0.21},{"r":0.21},{"r":0.21},{"r":0.22},{"r":0.22},{"r":0.22},{"r":0.23},{"r":0.23},{"r":0.23},
{"r":0.24},{"r":0.24},{"r":0.24},{"r":0.25},{"r":0.25},{"r":0.25},{"r":0.26},{"r":0.26},{"r":0.26},{"r":0.27},
{"r":0.27},{"r":0.27},{"r":0.28},{"r":0.28},{"r":0.28},{"r":0.29},{"r":0.29},{"r":0.29},{"r":0.3},{"r":0.3},{"r":0.3},{"r":0.31},{"r":0.31},{"r":0.32},{"r":0.32},{"r":0.33},
{"r":0.34},{"r":0.35},{"r":0.35},{"r":0.36},{"r":0.37},{"r":0.37},{"r":0.38},{"r":0.39},{"r":0.39},{"r":0.4},
{"r":0.41},{"r":0.41},{"r":0.42},{"r":0.43},{"r":0.43},{"r":0.44},{"r":0.45},{"r":0.46},{"r":0.46},{"r":0.47},
{"r":0.48},{"r":0.48},{"r":0.49},{"r":0.5},{"r":0.51},{"r":0.51},{"r":0.52},{"r":0.53},{"r":0.54},{"r":0.55},
{"r":0.55},{"r":0.56},{"r":0.57},{"r":0.58},{"r":0.59},{"r":0.6},{"r":0.6},{"r":0.61},{"r":0.62},{"r":0.63},
{"r":0.64},{"r":0.65},{"r":0.65},{"r":0.66},{"r":0.67},{"r":0.68},{"r":0.69},{"r":0.7},{"r":0.71},{"r":0.72},
{"r":0.73},{"r":0.74},{"r":0.75},{"r":0.76},{"r":0.77},{"r":0.78},{"r":0.79},{"r":0.8},{"r":0.81},{"r":0.82},
{"r":0.83},{"r":0.84},{"r":0.85},{"r":0.87},{"r":0.88},{"r":0.89},{"r":0.9},{"r":0.92},{"r":0.93},{"r":0.94},
{"r":0.96},{"r":0.97},{"r":0.98},{"r":1.0},{"r":1.01},{"r":1.02},{"r":1.04},{"r":1.05},{"r":1.06},{"r":1.07},{"r":1.08},{"r":1.09},{"r":1.1},
{"r":1.12},{"r":1.14},{"r":1.16},{"r":1.18},{"r":1.2},{"r":1.22},{"r":1.24},{"r":1.26},{"r":1.28},{"r":1.3},{"r":1.32},{"r":1.34},{"r":1.36},{"r":1.38},{"r":1.4},{"r":1.42},{"r":1.44},
{"r":1.48},{"r":1.52},{"r":1.56},{"r":1.6},{"r":1.64},{"r":1.68},{"r":1.72},{"r":1.76},{"r":1.8},{"r":1.84},{"r":1.87},{"r":1.9},{"r":1.93},{"r":1.96},{"r":2.0},
{"r":2.1},{"r":2.2},{"r":2.3},{"r":2.4},{"r":2.5},{"r":2.6},{"r":2.75},{"r":2.9},{"r":3.0},{"r":3.1},{"r":3.25},
{"r":3.4},{"r":3.55},{"r":3.7},{"r":3.85},{"r":4.0},{"r":4.2},{"r":4.5},{"r":4.9},{"r":5.3},{"r":5.8},
{"r":6.2},{"r":6.4},{"r":6.6},{"r":6.8},{"r":7.0},{"r":7.2},{"r":7.5},{"r":8.0},{"r":8.5},{"r":8.8},
{"r":10},{"r":10},{"r":10},{"r":10},{"r":10},{"r":10},{"r":10},{"r":10},{"r":10},{"r":10},{"r":10},{"r":10},{"r":10}
   ]},
   "transform":[{"window":[{"op":"row_number","as":"p"}]}],
   "mark":{"type":"circle","size":6,"opacity":1},
   "encoding":{
    "x":{"field":"p","type":"quantitative","scale":{"domain":[-15,425],"nice":false,"zero":false},"axis":{"values":[0,100,200,300,400],"format":"d","domain":false,"title":"Patients (increasing risk score)"}},
    "y":{"field":"r","type":"quantitative","scale":{"domain":[-0.4,10.4],"nice":false,"zero":false},"axis":{"values":[0,2,4,6,8,10],"format":"d","domain":false,"labelOverlap":false,"title":"Risk score","titlePadding":19}},
    "color":{"field":"p","type":"quantitative","scale":{"type":"threshold","domain":[204.5],"range":["#5fa832","#d42a2e"]},"legend":null}
   }},
   {"data":{"values":[{"cut":204.5}]},"mark":{"type":"rule","color":"#444","strokeDash":[2,2],"strokeWidth":0.8},"encoding":{"x":{"field":"cut","type":"quantitative","axis":{"values":[0,100,200,300,400],"format":"d","domain":false,"title":"Patients (increasing risk score)"}}}},
   {"data":{"values":[{"med":0.16}]},"mark":{"type":"rule","color":"#444","strokeDash":[2,2],"strokeWidth":0.8},"encoding":{"y":{"field":"med","type":"quantitative","axis":{"values":[0,2,4,6,8,10],"format":"d","domain":false,"labelOverlap":false,"title":"Risk score","titlePadding":19}}}}
  ]
 }
]}
]}
]}
]
}
